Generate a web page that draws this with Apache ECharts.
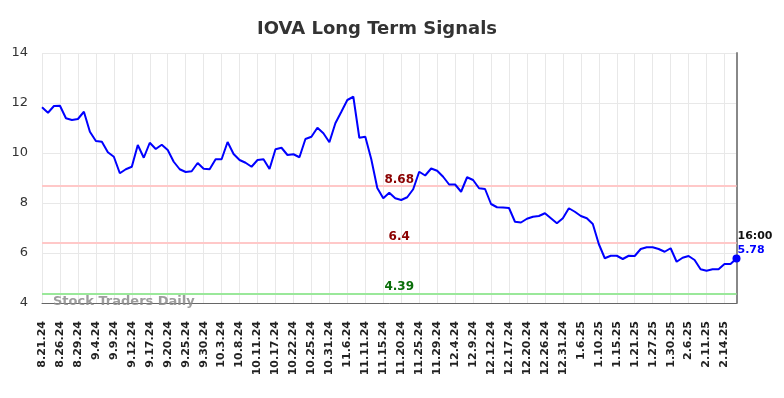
<!DOCTYPE html>
<html>
<head>
<meta charset="utf-8">
<title>IOVA Long Term Signals</title>
<script src="https://cdn.jsdelivr.net/npm/echarts@6/dist/echarts.min.js"></script>
<style>
	html, body { margin: 0; padding: 0; background: #fff; }
	#chart { width: 784px; height: 398px; }
</style>
</head>
<body>
<div id="chart"></div>
<script>
// x tick labels, one every 3 trading days
var tickLabels = ['8.21.24', '8.26.24', '8.29.24', '9.4.24', '9.9.24', '9.12.24', '9.17.24', '9.20.24',
	'9.25.24', '9.30.24', '10.3.24', '10.8.24', '10.11.24', '10.17.24', '10.22.24', '10.25.24',
	'10.31.24', '11.6.24', '11.11.24', '11.15.24', '11.20.24', '11.25.24', '11.29.24', '12.4.24',
	'12.9.24', '12.12.24', '12.17.24', '12.20.24', '12.26.24', '12.31.24', '1.6.25', '1.10.25',
	'1.15.25', '1.21.25', '1.27.25', '1.30.25', '2.6.25', '2.11.25', '2.14.25'];

// daily closes
var prices = [
	11.83, 11.61, 11.88, 11.89, 11.39, 11.32, 11.36, 11.65, 10.85, 10.48,
	10.45, 10.03, 9.85, 9.19, 9.35, 9.45, 10.32, 9.81, 10.41, 10.16,
	10.33, 10.12, 9.65, 9.35, 9.24, 9.27, 9.60, 9.37, 9.35, 9.75,
	9.75, 10.44, 9.96, 9.72, 9.61, 9.45, 9.72, 9.75, 9.36, 10.15,
	10.21, 9.92, 9.95, 9.83, 10.56, 10.65, 11.01, 10.79, 10.43, 11.19,
	11.65, 12.12, 12.25, 10.61, 10.65, 9.75, 8.60, 8.19, 8.41, 8.19,
	8.12, 8.23, 8.55, 9.25, 9.10, 9.38, 9.29, 9.05, 8.74, 8.74,
	8.45, 9.03, 8.92, 8.59, 8.56, 7.96, 7.83, 7.82, 7.80, 7.25,
	7.22, 7.37, 7.45, 7.48, 7.59, 7.39, 7.19, 7.39, 7.79, 7.65,
	7.48, 7.39, 7.16, 6.36, 5.79, 5.89, 5.89, 5.76, 5.89, 5.88,
	6.16, 6.23, 6.23, 6.16, 6.05, 6.19, 5.65, 5.81, 5.88, 5.72,
	5.35, 5.29, 5.35, 5.35, 5.56, 5.56, 5.78
];

var resistance = [8.68, 6.4];
var support = [4.39];
var lastTime = '16:00';

var lastIndex = prices.length - 1;
var lastPrice = prices[lastIndex];

var levelLines = resistance.map(function (v) {
	return {
		yAxis: v,
		lineStyle: { color: '#ffc8c8', width: 2, type: 'solid' },
		label: { color: '#8b0000' }
	};
}).concat(support.map(function (v) {
	return {
		yAxis: v,
		lineStyle: { color: '#9ae89a', width: 2, type: 'solid' },
		label: { color: '#0a6e0a' }
	};
}));

var chart = echarts.init(document.getElementById('chart'), null, { renderer: 'canvas' });

chart.setOption({
	animation: false,
	title: {
		text: 'IOVA Long Term Signals',
		left: 252,
		top: 15,
		textStyle: {
			fontFamily: 'DejaVu Sans',
			fontSize: 18,
			fontWeight: 'bold',
			color: '#333'
		}
	},
	grid: { left: 42, right: 47.5, top: 53, bottom: 95 },
	xAxis: {
		type: 'value',
		min: 0,
		max: lastIndex,
		interval: 3,
		axisLine: { show: true, lineStyle: { color: '#666', width: 1 } },
		axisTick: { show: false },
		splitLine: { show: true, lineStyle: { color: '#e8e8e8', width: 1 } },
		axisLabel: {
			rotate: 90,
			margin: 18,
			fontFamily: 'DejaVu Sans',
			fontSize: 11,
			fontWeight: 'bold',
			color: '#222',
			showMaxLabel: false,
			formatter: function (v) {
				if (v % 3 !== 0) return '';
				return tickLabels[v / 3] || '';
			}
		}
	},
	yAxis: [
		{
			type: 'value',
			min: 4,
			max: 14,
			interval: 2,
			axisLine: { show: false },
			axisTick: { show: false },
			splitLine: { show: true, lineStyle: { color: '#e8e8e8', width: 1 } },
			axisLabel: {
				margin: 14,
				fontFamily: 'DejaVu Sans',
				fontSize: 13,
				color: '#333'
			}
		},
		{
			type: 'value',
			position: 'right',
			min: 4,
			max: 14,
			interval: 2,
			axisLine: { show: true, lineStyle: { color: '#888', width: 2 } },
			axisTick: { show: false },
			axisLabel: { show: false },
			splitLine: { show: false }
		}
	],
	graphic: [
		{
			type: 'text',
			left: 53,
			top: 295,
			z: 100,
			style: {
				text: 'Stock Traders Daily',
				fill: 'rgba(140,140,140,0.85)',
				font: 'bold 13px "DejaVu Sans"'
			}
		}
	],
	series: [
		{
			type: 'line',
			data: prices.map(function (v, i) { return [i, v]; }),
			showSymbol: false,
			symbol: 'none',
			lineStyle: { color: '#0000ff', width: 2 },
			z: 5,
			markLine: {
				silent: true,
				symbol: 'none',
				z: 1,
				label: {
					show: true,
					position: 'insideMiddleTop',
					distance: 0,
					padding: [0, 0, 0, 20],
					fontFamily: 'DejaVu Sans',
					fontSize: 12,
					fontWeight: 'bold',
					formatter: function (p) { return String(p.value); }
				},
				data: levelLines
			},
			markPoint: {
				symbol: 'circle',
				symbolSize: 8,
				itemStyle: { color: '#0000ff' },
				label: {
					show: true,
					position: [5, -25],
					align: 'left',
					verticalAlign: 'top',
					formatter: '{t|' + lastTime + '}\n{v|' + lastPrice + '}',
					rich: {
						t: { fontFamily: 'DejaVu Sans', fontSize: 11, fontWeight: 'bold', color: '#111', lineHeight: 14 },
						v: { fontFamily: 'DejaVu Sans', fontSize: 11, fontWeight: 'bold', color: '#0000ff', lineHeight: 14 }
					}
				},
				data: [{ coord: [lastIndex, lastPrice] }]
			}
		}
	]
});
</script>
</body>
</html>
